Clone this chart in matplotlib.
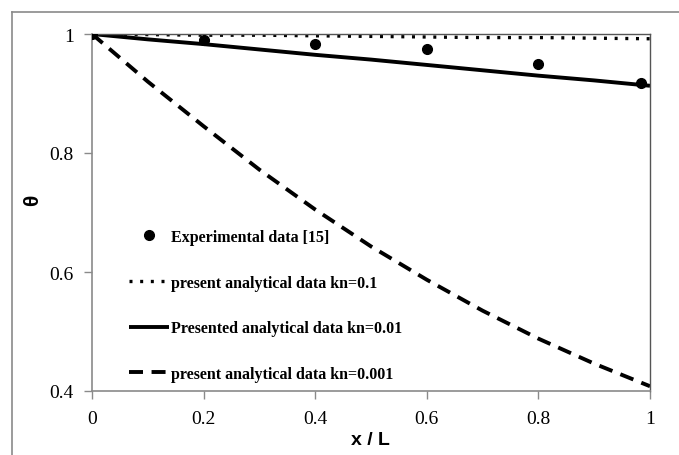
import matplotlib
matplotlib.use("Agg")
import matplotlib.pyplot as plt
from matplotlib.lines import Line2D

# Measured temperature profile
exp_x = [0.0, 0.2, 0.4, 0.6, 0.8, 0.984]
exp_theta = [1.0, 0.990, 0.983, 0.974, 0.950, 0.918]

# Analytical profiles along the channel
x_model = [0.0, 0.1, 0.2, 0.3, 0.4, 0.5, 0.6, 0.7, 0.8, 0.9, 1.0]
theta_kn01 = [1.0, 0.999, 0.998, 0.998, 0.997, 0.996, 0.995, 0.994, 0.994, 0.993, 0.992]
theta_kn001 = [1.0, 0.991, 0.983, 0.974, 0.965, 0.957, 0.948, 0.939, 0.930, 0.922, 0.913]
theta_kn0001 = [1.0, 0.920, 0.845, 0.772, 0.705, 0.643, 0.587, 0.535, 0.488, 0.446, 0.408]

x_ticks = [0, 0.2, 0.4, 0.6, 0.8, 1]
x_tick_labels = ["0", "0.2", "0.4", "0.6", "0.8", "1"]
y_ticks = [0.4, 0.6, 0.8, 1.0]
y_tick_labels = ["0.4", "0.6", "0.8", "1"]

W, H = 679, 456
fig = plt.figure(figsize=(W / 100, H / 100), dpi=100)
ax = fig.add_axes([92 / W, 1 - 392 / H, (650 - 92) / W, (392 - 35) / H])

ax.plot(exp_x, exp_theta, linestyle="none", marker="o", markersize=7,
        color="black", label="Experimental data [15]", zorder=5)
ax.plot(x_model, theta_kn01, color="black", lw=2.4, linestyle=(0, (0.9, 2.3)),
        label="present analytical data kn=0.1")
ax.plot(x_model, theta_kn001, color="black", lw=2.8, solid_capstyle="butt",
        label="Presented analytical data kn=0.01")
ax.plot(x_model, theta_kn0001, color="black", lw=2.8, dash_capstyle="butt",
        linestyle=(0, (3.6, 2.2)), label="present analytical data kn=0.001")

ax.set_xlim(0, 1)
ax.set_ylim(0.4, 1.0)
ax.set_xticks(x_ticks)
ax.set_xticklabels(x_tick_labels)
ax.set_yticks(y_ticks)
ax.set_yticklabels(y_tick_labels)

for lab in ax.get_xticklabels() + ax.get_yticklabels():
    lab.set_fontfamily("Liberation Serif")
    lab.set_fontsize(14)
ax.tick_params(direction="out", length=6, width=1, color="#8a8a8a")
ax.tick_params(axis="x", pad=8)
ax.tick_params(axis="y", pad=7)

for side in ("left", "bottom"):
    ax.spines[side].set_color("#8a8a8a")
    ax.spines[side].set_linewidth(1.2)
for side in ("top", "right"):
    ax.spines[side].set_color("#555555")
    ax.spines[side].set_linewidth(1.0)

fig.text(33 / W, 1 - 200 / H, "θ", rotation=90, ha="center", va="center",
         fontsize=15, fontweight="bold", family="Liberation Sans")
fig.text(370 / W, 1 - 441 / H, "x / L", ha="center", va="center",
         fontsize=14, fontweight="bold", family="Liberation Sans")

leg = ax.legend(loc="upper left", bbox_to_anchor=(129 / W, 1 - 230 / H),
                bbox_transform=fig.transFigure, frameon=False,
                prop={"family": "Liberation Serif", "size": 11.5, "weight": "bold"},
                handlelength=2.5, handletextpad=0.15, labelspacing=1.85,
                borderpad=0, borderaxespad=0)

# outer frame of the figure panel
fig.add_artist(Line2D([12 / W, 12 / W], [0, 1 - 13 / H], transform=fig.transFigure,
                      color="#8a8a8a", lw=1.2))
fig.add_artist(Line2D([12 / W, 1], [1 - 13 / H, 1 - 13 / H], transform=fig.transFigure,
                      color="#8a8a8a", lw=1.2))

fig.savefig("out.png", dpi=100)
